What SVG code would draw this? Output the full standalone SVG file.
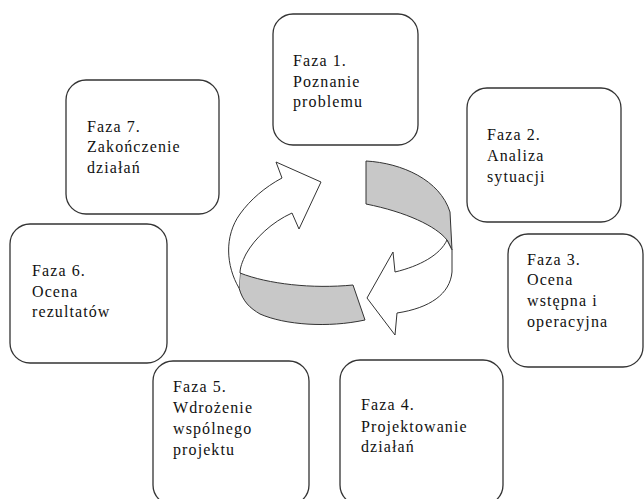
<svg xmlns="http://www.w3.org/2000/svg" width="644" height="499" viewBox="0 0 644 499">
<style>
.box{fill:#fff;stroke:#333;stroke-width:1.3}
.t{font-family:"Liberation Serif","Times New Roman",serif;font-size:16px;letter-spacing:1.1px;fill:#111}
.band{fill:#c8c8c8;stroke:#333;stroke-width:1}
.arr{fill:#fff;stroke:#333;stroke-width:1}
</style>
<rect width="644" height="499" fill="#fff"/>
<g id="connectors">
<path class="band" d="M240,273 C268,284 312,289 353,285 L365,320 C328,328 285,325 260,314 C250,308 243,302 239,288 Z"/>
<path class="arr" d="M239,288 C226,266 224,236 240,214 C250,200 265,187 282,178 L276,162 L321,182 L299,229 L292,213 C272,222 255,238 246,254 C242,262 240,268 240,273"/>
<path class="band" d="M366,161 C402,163 440,180 450,212 L452,250 L447,240 C436,226 406,212 366,204 Z"/>
<path class="arr" d="M452,250 L452,272 C450,294 430,308 397,313 L395,335 L367,298 L393,252 L395,272 C420,266 440,255 447,240 Z"/>
</g>
<g id="faza1"><rect class="box" x="273" y="14" width="145" height="131" rx="20"/>
<text class="t" x="293" y="66">Faza 1.</text><text class="t" x="293" y="87">Poznanie</text><text class="t" x="293" y="107">problemu</text></g>
<g id="faza2"><rect class="box" x="467" y="88" width="154" height="134" rx="20"/>
<text class="t" x="487" y="140">Faza 2.</text><text class="t" x="487" y="161">Analiza</text><text class="t" x="487" y="182">sytuacji</text></g>
<g id="faza3"><rect class="box" x="508" y="234" width="135" height="133" rx="20"/>
<text class="t" x="527" y="265">Faza 3.</text><text class="t" x="527" y="285">Ocena</text><text class="t" x="527" y="306">wstępna i</text><text class="t" x="527" y="327">operacyjna</text></g>
<g id="faza4"><rect class="box" x="340" y="360" width="163" height="145" rx="20"/>
<text class="t" x="361" y="410">Faza 4.</text><text class="t" x="361" y="432">Projektowanie</text><text class="t" x="361" y="452">działań</text></g>
<g id="faza5"><rect class="box" x="153" y="361" width="156" height="144" rx="20"/>
<text class="t" x="173" y="392">Faza 5.</text><text class="t" x="173" y="413">Wdrożenie</text><text class="t" x="173" y="434">wspólnego</text><text class="t" x="173" y="455">projektu</text></g>
<g id="faza6"><rect class="box" x="10" y="224" width="157" height="139" rx="20"/>
<text class="t" x="32" y="276">Faza 6.</text><text class="t" x="32" y="297">Ocena</text><text class="t" x="32" y="317">rezultatów</text></g>
<g id="faza7"><rect class="box" x="66" y="80" width="153" height="134" rx="20"/>
<text class="t" x="87" y="132">Faza 7.</text><text class="t" x="87" y="152">Zakończenie</text><text class="t" x="87" y="173">działań</text></g>
</svg>
